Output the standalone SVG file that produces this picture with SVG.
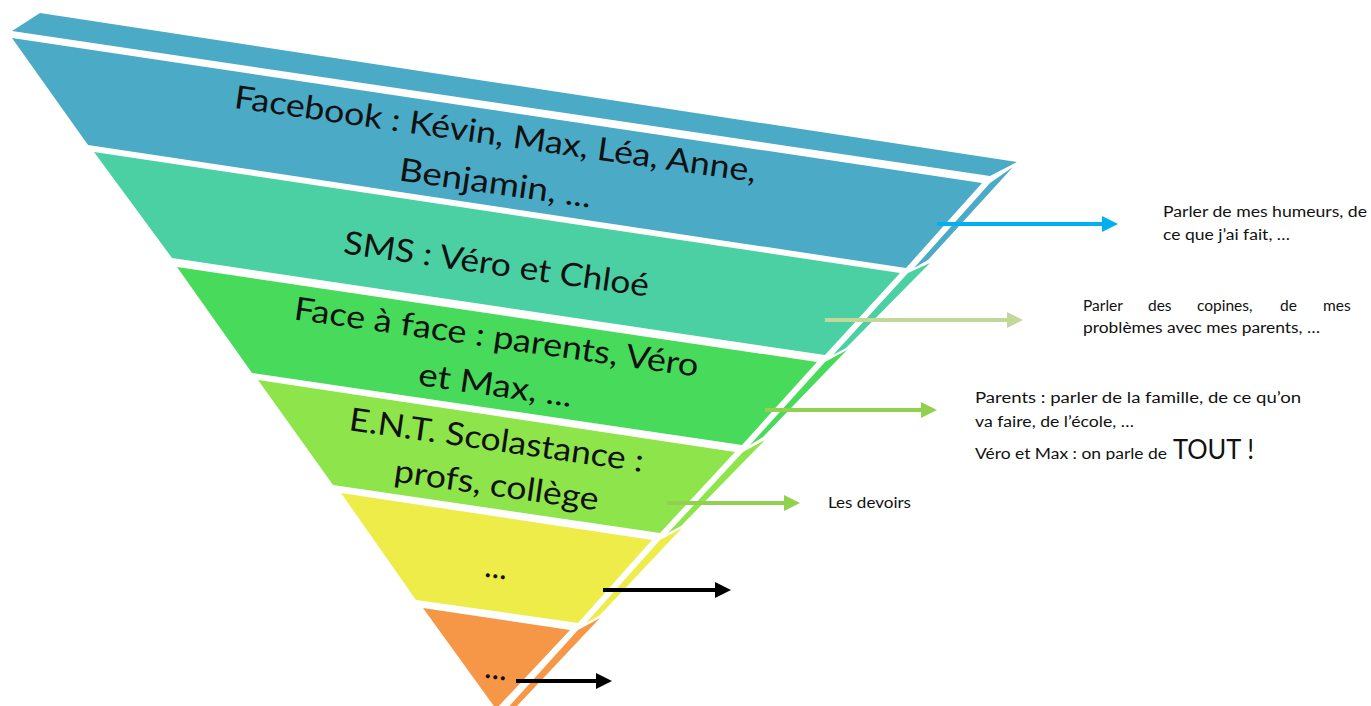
<svg xmlns="http://www.w3.org/2000/svg" width="1371" height="706" viewBox="0 0 1371 706">
<style>
.lbl{font-family:Lato,"Open Sans","Liberation Sans",sans-serif;font-size:32px;fill:#111;text-anchor:middle}
.note{font-family:Lato,"Open Sans","Liberation Sans",sans-serif;font-size:15.5px;fill:#111}
.c1{fill:#4BAAC6}.c2{fill:#4AD0A3}.c3{fill:#48DA5A}.c4{fill:#8EE44B}.c5{fill:#EEEC48}.c6{fill:#F69748}
.arr{stroke-width:4;fill:none}
</style>
<defs>
<marker id="hBlue" markerUnits="userSpaceOnUse" markerWidth="16" markerHeight="16" refX="0" refY="8" orient="auto" overflow="visible"><path d="M0,0 L16,8 L0,16 z" fill="#00B0F0"/></marker>
<marker id="hPale" markerUnits="userSpaceOnUse" markerWidth="16" markerHeight="16" refX="0" refY="8" orient="auto" overflow="visible"><path d="M0,0 L16,8 L0,16 z" fill="#C3D69B"/></marker>
<marker id="hGreen" markerUnits="userSpaceOnUse" markerWidth="16" markerHeight="16" refX="0" refY="8" orient="auto" overflow="visible"><path d="M0,0 L16,8 L0,16 z" fill="#92D050"/></marker>
<marker id="hBlack" markerUnits="userSpaceOnUse" markerWidth="16" markerHeight="16" refX="0" refY="8" orient="auto" overflow="visible"><path d="M0,0 L16,8 L0,16 z" fill="#000"/></marker>
<clipPath id="cutLine"><rect x="960" y="430" width="320" height="30"/></clipPath>
</defs>
<rect width="1371" height="706" fill="#fff"/>

<g id="top-face">
<polygon class="c1" points="12,31 40,13 1017,162 990,176"/>
</g>

<g id="band-facebook">
<polygon class="c1" points="12,38 982,183 906,268 88,145"/>
<polygon class="c1" points="990,183 1013,167 928,260 914,268"/>
<g transform="translate(494,145) rotate(8.1)"><text class="lbl" x="0" y="0" textLength="527" lengthAdjust="spacingAndGlyphs">Facebook : Kévin, Max, Léa, Anne,</text></g>
<g transform="translate(494,194) rotate(8.1)"><text class="lbl" x="0" y="0" textLength="194" lengthAdjust="spacingAndGlyphs">Benjamin, ...</text></g>
</g>

<g id="band-sms">
<polygon class="c2" points="94,152 900,273 825,355 172,258"/>
<polygon class="c2" points="908,273 930,263 846,348 833,355"/>
<g transform="translate(495,275) rotate(8.1)"><text class="lbl" x="0" y="0" textLength="308" lengthAdjust="spacingAndGlyphs">SMS : Véro et Chloé</text></g>
</g>

<g id="band-face">
<polygon class="c3" points="177,267 817,362 742,445 252,373"/>
<polygon class="c3" points="825,362 847,350 763,437 750,445"/>
<g transform="translate(495,348) rotate(8.1)"><text class="lbl" x="0" y="0" textLength="408" lengthAdjust="spacingAndGlyphs">Face à face : parents, Véro</text></g>
<g transform="translate(494,396) rotate(8.1)"><text class="lbl" x="0" y="0" textLength="155" lengthAdjust="spacingAndGlyphs">et Max, ...</text></g>
</g>

<g id="band-ent">
<polygon class="c4" points="258,380 735,452 660,533 333,485"/>
<polygon class="c4" points="743,452 765,440 681,526 668,533"/>
<g transform="translate(495,451) rotate(8.1)"><text class="lbl" x="0" y="0" textLength="297" lengthAdjust="spacingAndGlyphs">E.N.T. Scolastance :</text></g>
<g transform="translate(495,496) rotate(8.1)"><text class="lbl" x="0" y="0" textLength="206" lengthAdjust="spacingAndGlyphs">profs, collège</text></g>
</g>

<g id="band-yellow">
<polygon class="c5" points="341,493 652,540 578,623 416,600"/>
<polygon class="c5" points="660,540 682,528 599,616 586,623"/>
<g transform="translate(495,578) rotate(8.1)"><text class="lbl" x="0" y="0">...</text></g>
</g>

<g id="band-orange">
<polygon class="c6" points="423,608 570,630 496,709"/>
<polygon class="c6" points="578,630 600,618 517,706 504,712"/>
<g transform="translate(495,679) rotate(8.1)"><text class="lbl" x="0" y="0">...</text></g>
</g>

<g id="connectors">
<line class="arr" x1="937" y1="224" x2="1102" y2="224" stroke="#00B0F0" marker-end="url(#hBlue)"/>
<line class="arr" x1="825" y1="320" x2="1007" y2="320" stroke="#C3D69B" marker-end="url(#hPale)"/>
<line class="arr" x1="765" y1="410" x2="921" y2="410" stroke="#92D050" marker-end="url(#hGreen)"/>
<line class="arr" x1="667" y1="503" x2="784" y2="503" stroke="#92D050" marker-end="url(#hGreen)"/>
<line class="arr" x1="603" y1="590" x2="715" y2="590" stroke="#000" marker-end="url(#hBlack)"/>
<line class="arr" x1="516" y1="681" x2="596" y2="681" stroke="#000" marker-end="url(#hBlack)"/>
</g>

<g id="note-humeurs">
<text class="note" x="1163" y="217" textLength="204" lengthAdjust="spacingAndGlyphs">Parler de mes humeurs, de</text>
<text class="note" x="1163" y="240" textLength="127" lengthAdjust="spacingAndGlyphs">ce que j’ai fait, …</text>
</g>

<g id="note-copines">
<text class="note" x="1083" y="311">Parler</text>
<text class="note" x="1148" y="311">des</text>
<text class="note" x="1197" y="311">copines,</text>
<text class="note" x="1280" y="311">de</text>
<text class="note" x="1323" y="311">mes</text>
<text class="note" x="1083" y="333" textLength="237" lengthAdjust="spacingAndGlyphs">problèmes avec mes parents, …</text>
</g>

<g id="note-parents">
<text class="note" x="975" y="403" textLength="326" lengthAdjust="spacingAndGlyphs">Parents : parler de la famille, de ce qu’on</text>
<text class="note" x="975" y="427" textLength="159" lengthAdjust="spacingAndGlyphs">va faire, de l’école, …</text>
<g clip-path="url(#cutLine)">
<text class="note" x="975" y="459" textLength="192" lengthAdjust="spacingAndGlyphs">Véro et Max : on parle de</text>
<text class="note" x="1173" y="459" style="font-size:27px" textLength="81" lengthAdjust="spacingAndGlyphs">TOUT !</text>
</g>
</g>

<g id="note-devoirs">
<text class="note" x="828" y="508" textLength="83" lengthAdjust="spacingAndGlyphs">Les devoirs</text>
</g>
</svg>
